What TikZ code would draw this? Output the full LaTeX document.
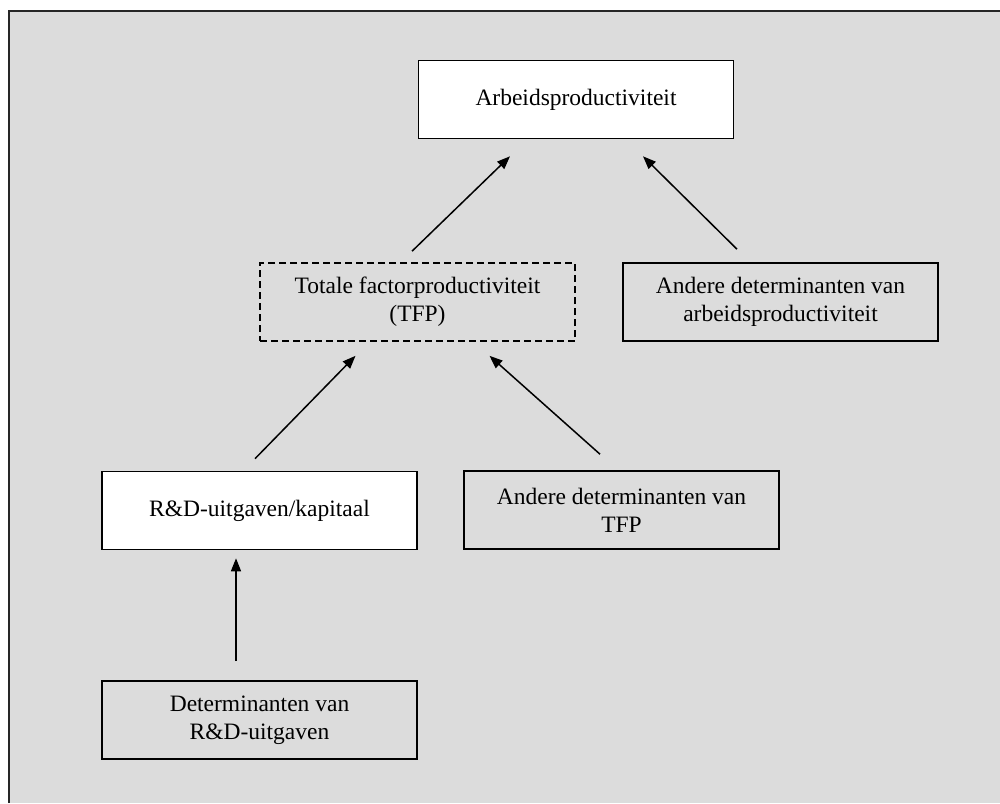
\documentclass[tikz,border=0pt]{standalone}
\usepackage{fontspec}
\setmainfont{Liberation Serif}
\usetikzlibrary{arrows.meta}
\definecolor{bggray}{HTML}{DCDCDC}
\tikzset{
  box/.style={draw=black, line width=1.6pt, minimum width=315pt, minimum height=78pt,
    inner sep=0pt, align=center, font=\fontsize{23.5}{28}\selectfont, text=black},
  whitebox/.style={box, fill=white},
  graybox/.style={box, fill=bggray},
  dashbox/.style={box, fill=bggray, dash pattern=on 7pt off 4pt},
  arr/.style={line width=1.5pt, -{Triangle[length=13pt, width=10pt]}}
}
\begin{document}
\begin{tikzpicture}[x=1pt, y=-1pt]
\useasboundingbox (0,0) rectangle (1000,803);
\fill[white] (0,0) rectangle (1000,803);
\fill[bggray] (9,11) rectangle (1000,803);
\draw[line width=2.2pt, black!85] (9,803) -- (9,11) -- (1000,11);

\node[whitebox] (arb) at (576,99.5) {Arbeidsproductiviteit};
\node[dashbox] (tfp) at (417.5,302) {Totale factorproductiviteit\\(TFP)};
\node[graybox] (andarb) at (780.5,302) {Andere determinanten van\\arbeidsproductiviteit};
\node[whitebox] (rd) at (259.5,510.5) {R\&D-uitgaven/kapitaal};
\node[graybox] (andtfp) at (621.5,510) {Andere determinanten van\\TFP};
\node[graybox] (det) at (259.5,720) {Determinanten van\\R\&D-uitgaven};

\draw[arr] ([xshift=-5.5pt,yshift=11pt]tfp.north) -- ([xshift=-66pt,yshift=-17pt]arb.south);
\draw[arr] ([xshift=-43.5pt,yshift=13pt]andarb.north) -- ([xshift=67pt,yshift=-17pt]arb.south);
\draw[arr] ([xshift=-4.5pt,yshift=12pt]rd.north) -- ([xshift=-62pt,yshift=-14pt]tfp.south);
\draw[arr] ([xshift=-21.5pt,yshift=16pt]andtfp.north) -- ([xshift=72pt,yshift=-14pt]tfp.south);
\draw[arr] ([xshift=-23.5pt,yshift=19pt]det.north) -- ([xshift=-23.5pt,yshift=-8pt]rd.south);
\end{tikzpicture}
\end{document}
